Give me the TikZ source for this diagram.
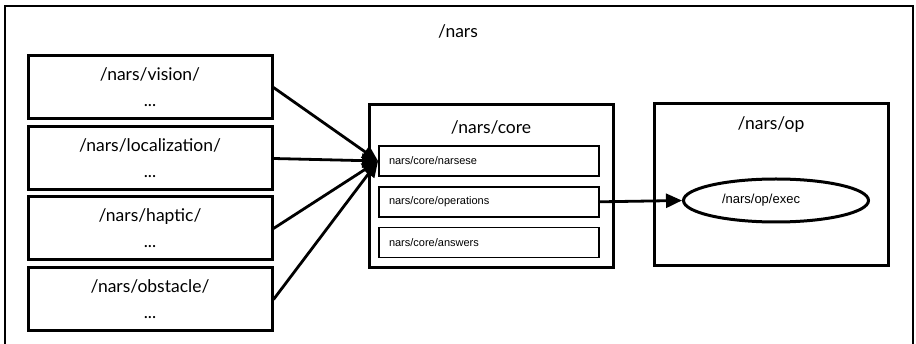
\documentclass[tikz,border=0pt]{standalone}
\usepackage{fontspec}
\setmainfont{Lato}
\newfontfamily\topicfont{Liberation Sans}
\usetikzlibrary{arrows.meta,shapes.geometric,positioning}
\tikzset{
  modbox/.style={draw,line width=3pt,minimum width=244pt,minimum height=63pt,
    align=center,font=\fontsize{17.5}{26}\selectfont},
  groupbox/.style={draw,line width=3pt},
  topicbox/.style={draw,line width=1.8pt,text width=200pt,inner xsep=10pt,
    minimum height=30pt,align=left,font=\topicfont\fontsize{11}{13}\selectfont},
  title/.style={font=\fontsize{17.5}{20}\selectfont},
  conn/.style={line width=2.8pt,-{Triangle[length=16pt,width=14pt]}}
}
\begin{document}
\begin{tikzpicture}[x=1pt,y=-1pt]
  \useasboundingbox (0,0) rectangle (916,344);
  \draw[line width=2.4pt] (5,350) rectangle (913,6);
  \node[title] (nars) at (458,31) {/nars};

  % sensor modules
  \node[modbox] (vision) at (150,87.5) {/nars/vision/\\...};
  \node[modbox] (localization) at (150,158.5) {/nars/localization/\\...};
  \node[modbox] (haptic) at (150,228.5) {/nars/haptic/\\...};
  \node[modbox] (obstacle) at (150,299.5) {/nars/obstacle/\\...};

  % core
  \node[groupbox,minimum width=244pt,minimum height=163pt] (core) at (491,186.5) {};
  \node[title] (coretitle) at (491,127) {/nars/core};
  \node[topicbox] (narsese) at (489,161) {nars/core/narsese};
  \node[topicbox,below=9pt of narsese] (operations) {nars/core/operations};
  \node[topicbox,below=9pt of operations] (answers) {nars/core/answers};

  % op
  \node[groupbox,minimum width=234pt,minimum height=162pt] (op) at (771,185) {};
  \node[title] (optitle) at (771,125) {/nars/op};
  \node[draw,ellipse,line width=3pt,minimum width=185pt,minimum height=43pt,
    text width=108pt,align=left,font=\topicfont\fontsize{13}{15}\selectfont]
    (exec) at (776,200.5) {/nars/op/exec};

  \foreach \m in {vision,localization,haptic,obstacle}
    \draw[conn] (\m.east) -- (narsese.west);
  \draw[conn] (operations.east) -- (exec.west);
\end{tikzpicture}
\end{document}
